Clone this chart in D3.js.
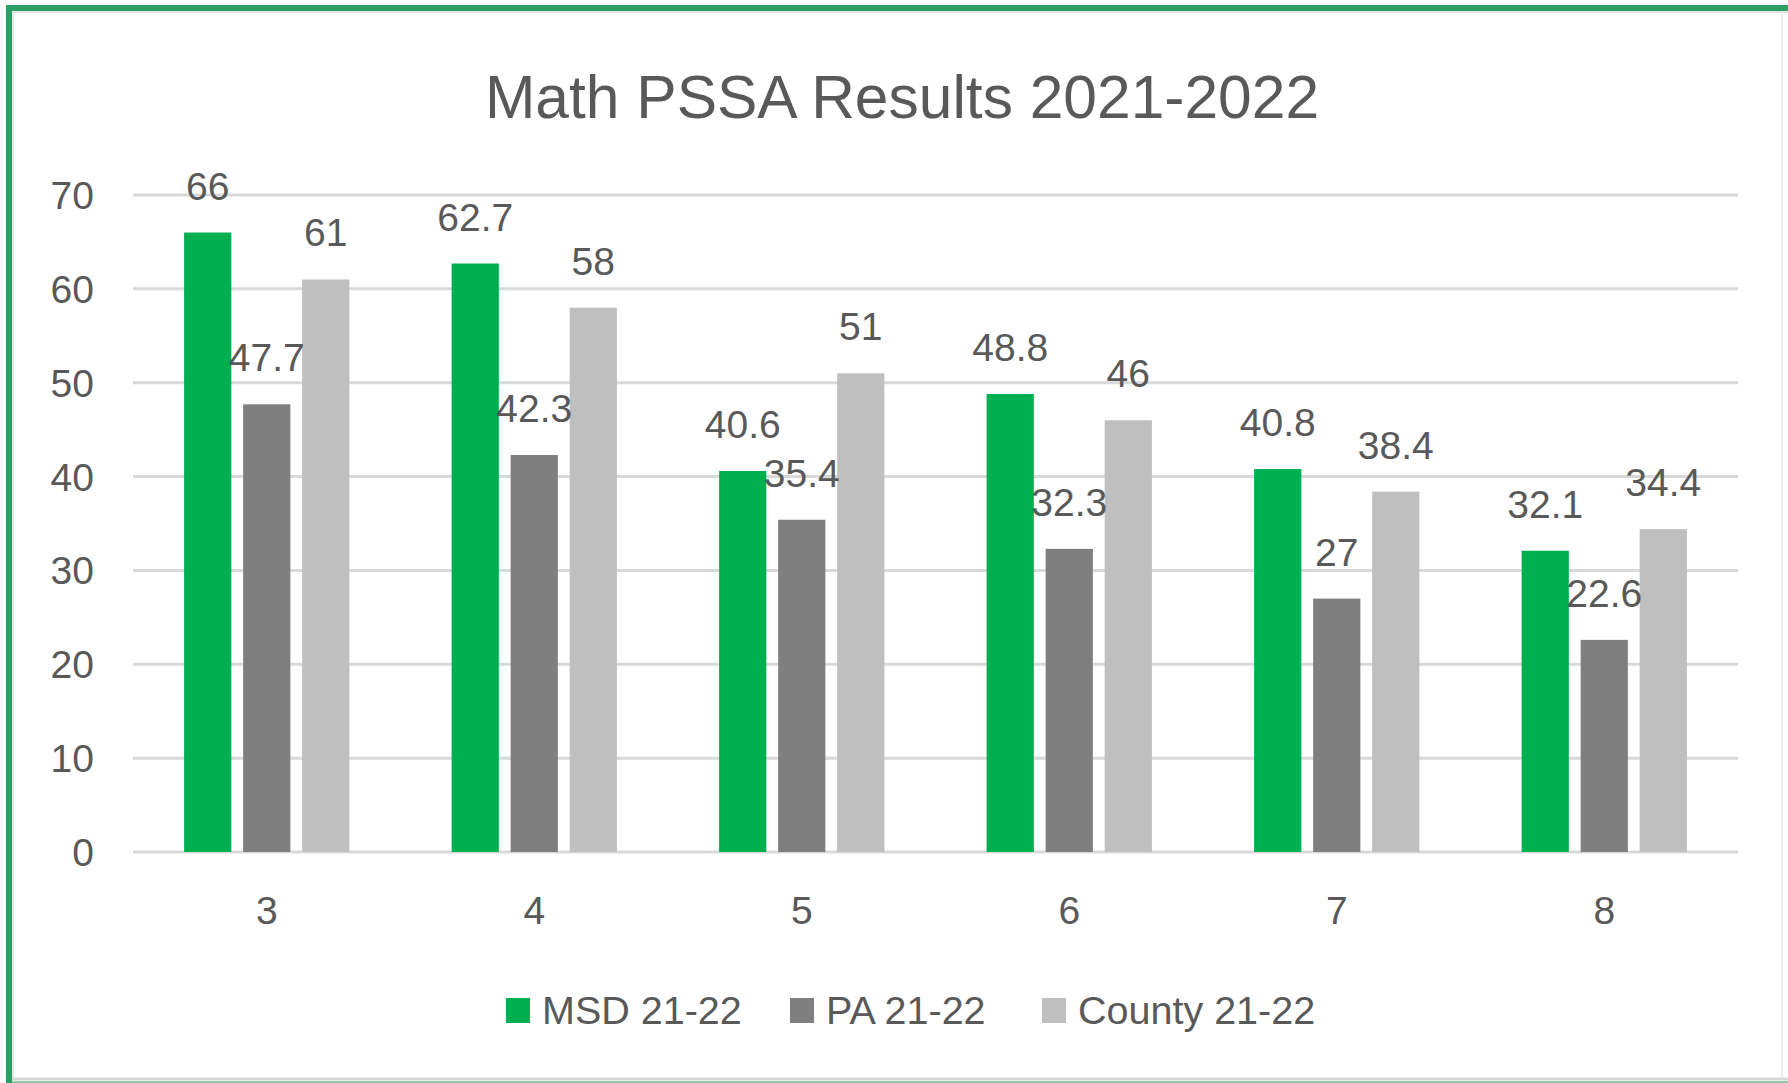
<!DOCTYPE html>
<html>
<head>
<meta charset="utf-8">
<script src="https://cdn.jsdelivr.net/npm/d3@7"></script>
<style>
  body { margin: 0; background: #fff; }
  text { font-family: "Liberation Sans", Arial, sans-serif; fill: #595959; }
</style>
</head>
<body>
<div id="chart"></div>
<script>
let grades = ['3', '4', '5', '6', '7', '8']
let seriesNames = ['MSD 21-22', 'PA 21-22', 'County 21-22']
let msd = [66, 62.7, 40.6, 48.8, 40.8, 32.1]
let pa = [47.7, 42.3, 35.4, 32.3, 27, 22.6]
let county = [61, 58, 51, 46, 38.4, 34.4]
let yTicks = [0, 10, 20, 30, 40, 50, 60, 70]
let colors = ['#00b050', '#7f7f7f', '#bfbfbf']

let width = 1788,
  height = 1083

let margin = { top: 195, right: 50, bottom: 231, left: 133 }

let svg = d3.select('#chart')
  .append('svg')
  .attr('width', width)
  .attr('height', height)

// screenshot frame: green on left and top, grey shadow on the other sides
svg.append('rect')
  .attr('x', 0).attr('y', 0).attr('width', width).attr('height', height)
  .attr('fill', '#fff')
svg.append('path')
  .attr('d', 'M9,' + height + ' V8 H' + width)
  .attr('fill', 'none').attr('stroke', '#2e9e66').attr('stroke-width', 6)
svg.append('path')
  .attr('d', 'M13,' + (height - 5) + ' V12 H' + width)
  .attr('fill', 'none').attr('stroke', '#e4e4e4').attr('stroke-width', 2)
svg.append('line')
  .attr('x1', 12).attr('x2', width).attr('y1', height - 4).attr('y2', height - 4)
  .attr('stroke', '#d8d8d8').attr('stroke-width', 3)
svg.append('line')
  .attr('x1', 12).attr('x2', width).attr('y1', height - 1).attr('y2', height - 1)
  .attr('stroke', '#8fc9a8').attr('stroke-width', 2)
svg.append('line')
  .attr('x1', 1782).attr('x2', 1782).attr('y1', 14).attr('y2', height - 6)
  .attr('stroke', '#eeeeee').attr('stroke-width', 2)

let x0 = d3.scaleBand()
  .domain(grades)
  .range([margin.left, width - margin.right])
  .paddingInner(0.338)
  .paddingOuter(0.169)

let x1 = d3.scaleBand()
  .domain(seriesNames)
  .range([0, x0.bandwidth()])
  .paddingInner(0.2)
  .paddingOuter(0.1)

let y = d3.scaleLinear()
  .domain([0, 70])
  .range([height - margin.bottom, margin.top])

// gridlines
svg.append('g')
  .selectAll('line')
  .data(yTicks)
  .enter().append('line')
  .attr('x1', margin.left)
  .attr('x2', width - margin.right)
  .attr('y1', d => y(d))
  .attr('y2', d => y(d))
  .attr('stroke', '#d9d9d9')
  .attr('stroke-width', 3)

// y labels
svg.append('g')
  .selectAll('text')
  .data(yTicks)
  .enter().append('text')
  .attr('x', 94)
  .attr('y', d => y(d))
  .attr('dy', '0.36em')
  .attr('text-anchor', 'end')
  .style('font-size', '39px')
  .text(d => d)

// x labels
svg.append('g')
  .selectAll('text')
  .data(grades)
  .enter().append('text')
  .attr('x', d => x0(d) + x0.bandwidth() / 2)
  .attr('y', 924)
  .attr('text-anchor', 'middle')
  .style('font-size', '39px')
  .text(d => d)

let rows = grades.map((g, i) => ({
  grade: g,
  values: [msd[i], pa[i], county[i]].map((v, j) => ({ name: seriesNames[j], value: v, color: colors[j] }))
}))

let groups = svg.selectAll('.grade')
  .data(rows)
  .enter().append('g')
  .attr('class', 'grade')
  .attr('transform', d => 'translate(' + x0(d.grade) + ',0)')

groups.selectAll('rect')
  .data(d => d.values)
  .enter().append('rect')
  .attr('x', d => x1(d.name))
  .attr('y', d => y(d.value))
  .attr('width', x1.bandwidth())
  .attr('height', d => y(0) - y(d.value))
  .attr('fill', d => d.color)

groups.selectAll('.bar-label')
  .data(d => d.values)
  .enter().append('text')
  .attr('class', 'bar-label')
  .attr('x', d => x1(d.name) + x1.bandwidth() / 2)
  .attr('y', d => y(d.value) - 33)
  .attr('text-anchor', 'middle')
  .style('font-size', '39px')
  .text(d => d.value)

// title
svg.append('text')
  .attr('x', 902)
  .attr('y', 118)
  .attr('text-anchor', 'middle')
  .style('font-size', '60.5px')
  .text('Math PSSA Results 2021-2022')

// legend
let legendX = [506, 790, 1042]
let legend = svg.selectAll('.legend')
  .data(seriesNames)
  .enter().append('g')
  .attr('class', 'legend')
  .attr('transform', (d, i) => 'translate(' + legendX[i] + ',998)')

legend.append('rect')
  .attr('width', 24)
  .attr('height', 25)
  .attr('fill', (d, i) => colors[i])

legend.append('text')
  .attr('x', 36)
  .attr('y', 26)
  .style('font-size', '39.5px')
  .text(d => d)
</script>
</body>
</html>
